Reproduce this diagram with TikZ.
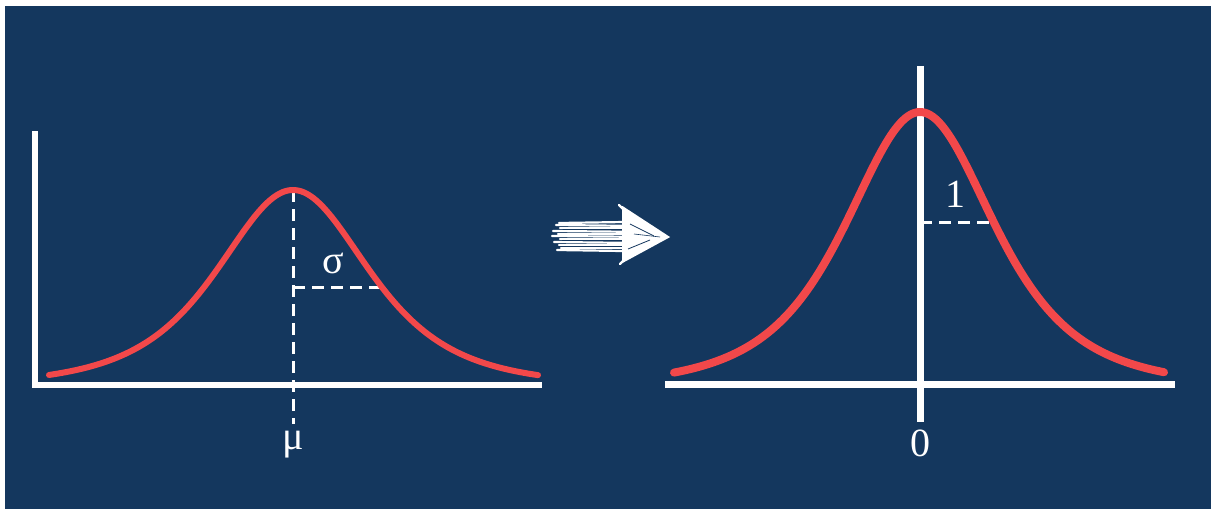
\documentclass[tikz,border=0pt]{standalone}
\usepackage{fontspec}
\setmainfont{Liberation Serif}
\definecolor{bgblue}{HTML}{14375E}
\definecolor{curvered}{HTML}{F2484A}
\begin{document}
\begin{tikzpicture}[x=1pt,y=-1pt,
  axisline/.style={white,line width=6pt},
  bell/.style={curvered,line width=6pt,line cap=round,line join=round},
  guide/.style={white,line width=3pt,dash pattern=on 12pt off 7pt},
  lbl/.style={white,font=\fontsize{40}{40}\selectfont,inner sep=0pt},
  sk/.style={white,line width=2.2pt,line cap=round}]
\useasboundingbox (0,0) rectangle (1213,511);
\fill[white] (0,0) rectangle (1213,511);
\fill[bgblue] (5,6) rectangle (1211,509);

% ---------- left chart ----------
\coordinate (LYt) at (35,131);
\coordinate (LYb) at (35,388);
\coordinate (LXl) at (32,385);
\coordinate (LXr) at (542,385);
\coordinate (Lpk) at (293,190);
\coordinate (Lmb) at (293,424);
\coordinate (Lsl) at (293,287);
\coordinate (Lsr) at (383,287);
\draw[axisline] (LYt) -- (LYb);
\draw[axisline] (LXl) -- (LXr);
\draw[guide] (Lpk) -- (Lmb);
\draw[guide] (Lsl) -- (Lsr);
\draw[bell] plot[domain=-244:245,samples=160,smooth]
  ({293+\x},{387-197/(1+(\x/100)^2/1.9536)^2});
\node[lbl] (sig) at (333,263) {σ};
\node[lbl,anchor=north] (mu) at (293,431) {μ};

% ---------- arrow ----------
\coordinate (Ah1) at (622,207);
\coordinate (Ahtip) at (668,237);
\coordinate (Ah2) at (622,262);
\fill[white] (Ah1) -- (Ahtip) -- (Ah2) -- cycle;
\foreach \ya/\yb/\xa/\xb in {
 223/222/559/625, 225/226/556/640, 228/228/560/628, 231/232/553/650,
 234/234/558/660, 236/237/552/655, 239/239/560/645, 242/243/554/636,
 245/245/559/628, 248/248/561/624, 250/251/557/622}
  \draw[sk] (\xa,\ya) -- (\xb,\yb);
\draw[sk] (Ah1) -- (Ahtip) -- (Ah2);
\draw[sk] (619,205) -- (628,214) (620,264) -- (630,254);
\draw[sk] (624,210) -- (626,259);
\draw[bgblue,line width=0.8pt] (630,224) -- (654,236);
\draw[bgblue,line width=0.8pt] (628,249) -- (650,240);
\draw[bgblue,line width=0.6pt] (634,234) -- (660,237);

% ---------- right chart ----------
\coordinate (RYt) at (920,66);
\coordinate (RYb) at (920,422);
\coordinate (RXl) at (665,384);
\coordinate (RXr) at (1175,384);
\coordinate (Rsl) at (920,222);
\coordinate (Rsr) at (993,222);
\draw[axisline,line width=7pt] (RYt) -- (RYb);
\draw[axisline,line width=7pt] (RXl) -- (RXr);
\draw[guide] (Rsl) -- (Rsr);
\draw[bell,line width=8pt] plot[domain=-246:244,samples=160,smooth]
  ({920+\x},{388-276/(1+(\x/100)^2/1.8723)^2});
\node[lbl] (one) at (955,194) {1};
\node[lbl] (zero) at (920,443) {0};
\end{tikzpicture}
\end{document}
